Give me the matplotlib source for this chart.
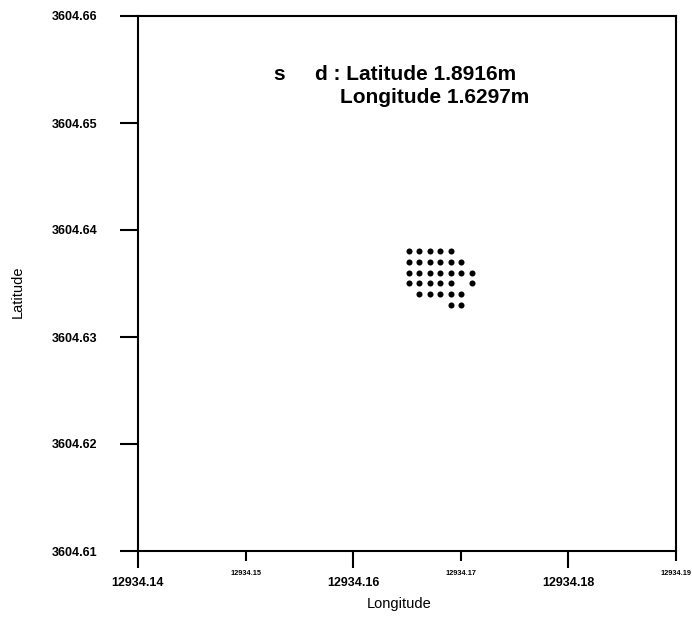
import matplotlib
matplotlib.use("Agg")
import matplotlib.pyplot as plt
from matplotlib.ticker import FixedLocator, FixedFormatter

# Data
row_lat = [3604.638, 3604.637, 3604.636, 3604.635, 3604.634, 3604.633]
col_lon = [12934.1652, 12934.1661, 12934.1671, 12934.1681, 12934.1691, 12934.1700, 12934.1710]
# column indices present in each row
row_cols = [
    [0, 1, 2, 3, 4],
    [0, 1, 2, 3, 4, 5],
    [0, 1, 2, 3, 4, 5, 6],
    [0, 1, 2, 3, 4, 6],
    [1, 2, 3, 4, 5],
    [4, 5],
]
lon = [col_lon[c] for r, cols in enumerate(row_cols) for c in cols]
lat = [row_lat[r] for r, cols in enumerate(row_cols) for c in cols]

x_major = [12934.14, 12934.16, 12934.18]
x_major_labels = ["12934.14", "12934.16", "12934.18"]
x_minor = [12934.15, 12934.17, 12934.19]
x_minor_labels = ["12934.15", "12934.17", "12934.19"]
y_ticks = [3604.61, 3604.62, 3604.63, 3604.64, 3604.65, 3604.66]
y_labels = ["3604.61", "3604.62", "3604.63", "3604.64", "3604.65", "3604.66"]

plt.rcParams['font.family'] = ['Liberation Sans', 'DejaVu Sans']

fig = plt.figure(figsize=(6.92, 6.19), dpi=100)
ax = fig.add_axes([138/692, 1-551/619, (676-138)/692, (551-16)/619])

ax.scatter(lon, lat, s=19, c='black', linewidths=0)

ax.set_xlim(12934.14, 12934.19)
ax.set_ylim(3604.61, 3604.66)

for sp in ax.spines.values():
    sp.set_linewidth(1.5)

ax.xaxis.set_major_locator(FixedLocator(x_major))
ax.xaxis.set_major_formatter(FixedFormatter(x_major_labels))
ax.xaxis.set_minor_locator(FixedLocator(x_minor))
ax.xaxis.set_minor_formatter(FixedFormatter(x_minor_labels))
ax.yaxis.set_major_locator(FixedLocator(y_ticks))
ax.yaxis.set_major_formatter(FixedFormatter(y_labels))
ax.yaxis.set_minor_locator(FixedLocator([]))

ax.tick_params(axis='x', which='major', direction='out', length=12, width=1.5,
               pad=7, labelsize=9)
ax.tick_params(axis='x', which='minor', direction='out', length=7, width=1.5,
               pad=7, labelsize=5.3)
ax.tick_params(axis='y', which='major', direction='out', length=13, width=1.5,
               pad=16, labelsize=9)
for lab in ax.get_xticklabels() + ax.get_yticklabels():
    lab.set_fontweight('bold')
for lab in ax.get_xticklabels(minor=True):
    lab.set_fontweight('bold')

ax.set_xlabel("Longitude", fontsize=10.5)
ax.xaxis.set_label_coords((399-138)/538, (551-597)/535)
ax.set_ylabel("Latitude", fontsize=10.5)
ax.yaxis.set_label_coords((25-138)/538, (551-292)/535)

ax.text((273-138)/538, (551-80)/535, "s", transform=ax.transAxes,
        fontsize=15, fontweight='bold', ha='left', va='baseline')
ax.text((315-138)/538, (551-80)/535, "d : Latitude 1.8916m", transform=ax.transAxes,
        fontsize=15, fontweight='bold', ha='left', va='baseline')
ax.text((340-138)/538, (551-103)/535, "Longitude 1.6297m", transform=ax.transAxes,
        fontsize=15, fontweight='bold', ha='left', va='baseline')

fig.savefig("out.png", dpi=100)
